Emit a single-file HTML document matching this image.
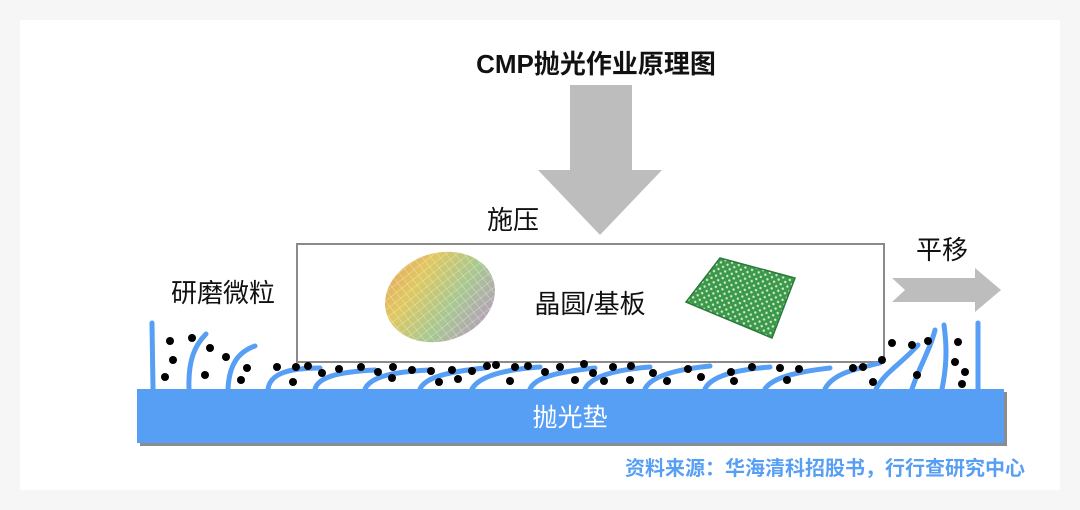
<!DOCTYPE html>
<html><head><meta charset="utf-8"><style>
html,body{margin:0;padding:0;background:#f6f6f6;}
body{width:1080px;height:510px;position:relative;overflow:hidden;font-family:"Liberation Sans","Noto Sans CJK SC",sans-serif;}
</style></head><body>
<svg width="1080" height="510" viewBox="0 0 1080 510" xmlns="http://www.w3.org/2000/svg" style="position:absolute;left:0;top:0">
<defs>
<linearGradient id="w" x1="0" y1="0" x2="1" y2="1">
<stop offset="0" stop-color="#e8a060"/><stop offset="0.3" stop-color="#e0c860"/><stop offset="0.6" stop-color="#a8c890"/><stop offset="1" stop-color="#b890c8"/>
</linearGradient>
<pattern id="g" width="7" height="7" patternUnits="userSpaceOnUse" patternTransform="rotate(-20)"><rect width="7" height="7" fill="none"/><path d="M0 0H7M0 0V7" stroke="#fff" stroke-opacity="0.5" stroke-width="1"/></pattern>
<pattern id="p" width="5" height="5" patternUnits="userSpaceOnUse" patternTransform="rotate(-25)"><rect width="5" height="5" fill="#3a9a4a"/><circle cx="2.5" cy="2.5" r="1.2" fill="#d8e8d0"/></pattern>
</defs>
<rect x="20" y="20" width="1040" height="470" fill="#fff"/>
<text x="596" y="73" text-anchor="middle" font-size="26" font-weight="bold" fill="#111">CMP抛光作业原理图</text>
<polygon points="570,85 632,85 632,170 662,170 600,235 538,170 570,170" fill="#bdbdbd"/>
<text x="513" y="229" text-anchor="middle" font-size="26" fill="#111">施压</text>
<rect x="297" y="244" width="587" height="118" fill="#fff" stroke="#8a8a8a" stroke-width="2"/>
<g transform="rotate(-18 440 297)">
<ellipse cx="440" cy="297" rx="56" ry="44" fill="url(#w)"/>
<ellipse cx="440" cy="297" rx="56" ry="44" fill="url(#g)"/>
</g>
<text x="590" y="313" text-anchor="middle" font-size="26" fill="#111">晶圆/基板</text>
<polygon points="720,258 795,278 772,338 686,302" fill="url(#p)" stroke="#2a7a3a" stroke-width="1.5"/>
<text x="942" y="259" text-anchor="middle" font-size="26" fill="#111">平移</text>
<polygon points="892,278 975,278 975,268 1001,290 975,312 975,302 892,302 905,290" fill="#bdbdbd"/>
<text x="223" y="302" text-anchor="middle" font-size="26" fill="#111">研磨微粒</text>
<rect x="140" y="392" width="867" height="54" fill="#8c8c8c"/>
<rect x="137" y="389" width="867" height="54" fill="#579ef5"/>
<text x="570" y="426" text-anchor="middle" font-size="25" fill="#fff">抛光垫</text>
<g fill="none" stroke="#579ef5" stroke-width="5" stroke-linecap="round">
<path d="M153,389 L152,323"/>
<path d="M189,389 C188,360 195,345 206,334"/>
<path d="M228,389 C229,365 238,352 255,346"/>
<path d="M268,389 C270,375 285,368 320,368"/>
<path d="M315,389 C318,378 335,372 375,370"/>
<path d="M365,389 C370,378 388,372 430,370"/>
<path d="M420,389 C425,378 445,372 485,368"/>
<path d="M472,389 C478,378 498,370 540,367"/>
<path d="M530,389 C535,378 555,372 595,368"/>
<path d="M585,389 C590,378 610,370 650,367"/>
<path d="M645,389 C650,378 670,370 710,366"/>
<path d="M705,389 C710,378 730,370 770,367"/>
<path d="M765,389 C772,378 795,372 830,368"/>
<path d="M825,389 C832,375 850,370 880,363"/>
<path d="M876,389 C885,372 900,365 918,345"/>
<path d="M912,389 C920,365 930,350 935,330"/>
<path d="M942,389 C948,360 946,340 944,325"/>
<path d="M978,389 L978,323"/>
</g>
<g fill="#000">
<circle cx="170" cy="341" r="4"/><circle cx="192" cy="338" r="4"/><circle cx="173" cy="360" r="4"/><circle cx="210" cy="348" r="4"/><circle cx="165" cy="377" r="4"/><circle cx="226" cy="357" r="4"/><circle cx="205" cy="375" r="4"/><circle cx="247" cy="368" r="4"/><circle cx="241" cy="380" r="4"/><circle cx="277" cy="367" r="4"/><circle cx="296" cy="367" r="4"/><circle cx="308" cy="366" r="4"/><circle cx="322" cy="373" r="4"/><circle cx="339" cy="369" r="4"/><circle cx="293" cy="382" r="4"/><circle cx="361" cy="367" r="4"/><circle cx="378" cy="372" r="4"/><circle cx="393" cy="367" r="4"/><circle cx="412" cy="370" r="4"/><circle cx="392" cy="378" r="4"/><circle cx="431" cy="371" r="4"/><circle cx="452" cy="370" r="4"/><circle cx="439" cy="382" r="4"/><circle cx="458" cy="379" r="4"/><circle cx="472" cy="371" r="4"/><circle cx="487" cy="366" r="4"/><circle cx="496" cy="365" r="4"/><circle cx="515" cy="367" r="4"/><circle cx="528" cy="366" r="4"/><circle cx="510" cy="381" r="4"/><circle cx="545" cy="372" r="4"/><circle cx="560" cy="367" r="4"/><circle cx="575" cy="380" r="4"/><circle cx="584" cy="364" r="4"/><circle cx="593" cy="373" r="4"/><circle cx="613" cy="367" r="4"/><circle cx="631" cy="366" r="4"/><circle cx="604" cy="381" r="4"/><circle cx="630" cy="380" r="4"/><circle cx="653" cy="373" r="4"/><circle cx="688" cy="369" r="4"/><circle cx="667" cy="381" r="4"/><circle cx="701" cy="377" r="4"/><circle cx="731" cy="372" r="4"/><circle cx="752" cy="367" r="4"/><circle cx="734" cy="381" r="4"/><circle cx="780" cy="368" r="4"/><circle cx="799" cy="369" r="4"/><circle cx="787" cy="380" r="4"/><circle cx="853" cy="368" r="4"/><circle cx="863" cy="367" r="4"/><circle cx="873" cy="382" r="4"/><circle cx="882" cy="360" r="4"/><circle cx="892" cy="343" r="4"/><circle cx="912" cy="345" r="4"/><circle cx="928" cy="341" r="4"/><circle cx="917" cy="375" r="4"/><circle cx="958" cy="342" r="4"/><circle cx="955" cy="362" r="4"/><circle cx="965" cy="372" r="4"/><circle cx="962" cy="384" r="4"/>
</g>
<text x="1025" y="475" text-anchor="end" font-size="20" font-weight="bold" fill="#579ef5">资料来源：华海清科招股书，行行查研究中心</text>
</svg>
</body></html>
